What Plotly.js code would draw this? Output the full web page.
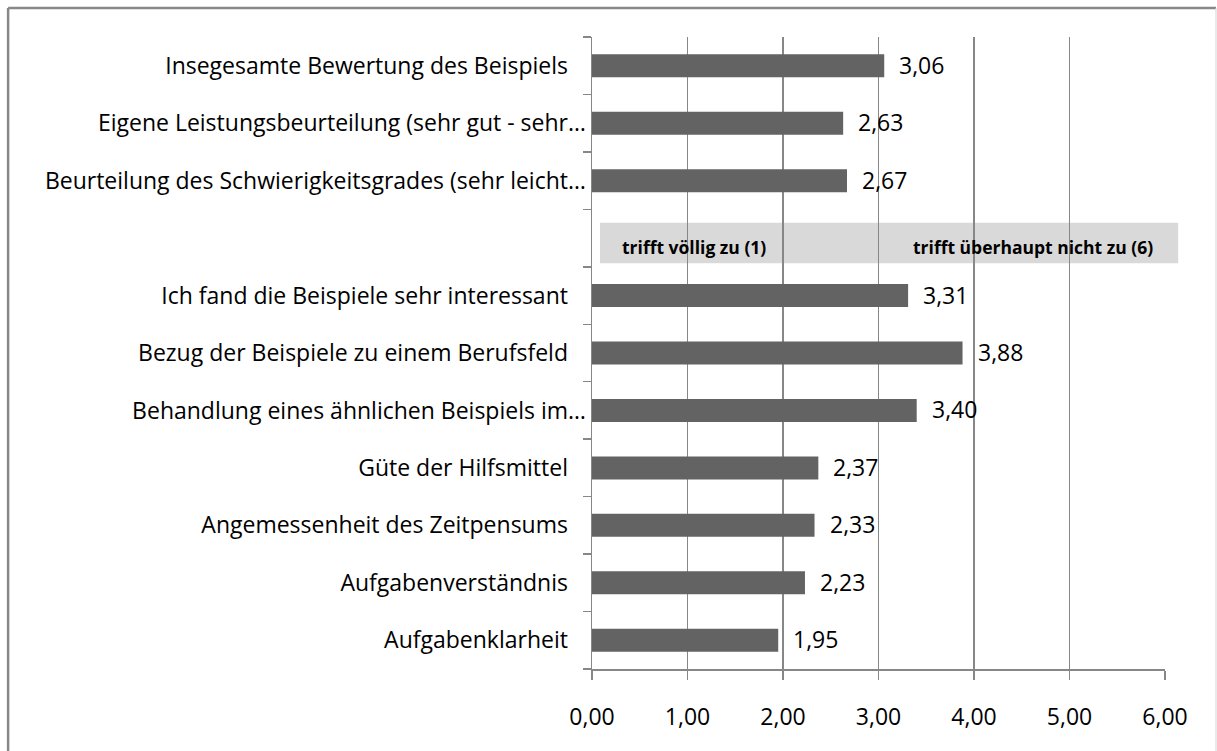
<!DOCTYPE html>
<html>
<head>
<meta charset="utf-8">
<script src="https://cdn.plot.ly/plotly-3.0.1.min.js"></script>
<style>
html,body{margin:0;padding:0;background:#fff;}
#chart{width:1217px;height:751px;}
</style>
</head>
<body>
<div id="chart"></div>
<script>
// Categories from top to bottom; the empty entry is the gap row holding the scale hint
var categories = [
  "Insegesamte Bewertung des Beispiels",
  "Eigene Leistungsbeurteilung (sehr gut - sehr…",
  "Beurteilung des Schwierigkeitsgrades (sehr leicht…",
  " ",
  "Ich fand die Beispiele sehr interessant",
  "Bezug der Beispiele zu einem Berufsfeld",
  "Behandlung eines ähnlichen Beispiels im…",
  "Güte der Hilfsmittel",
  "Angemessenheit des Zeitpensums",
  "Aufgabenverständnis",
  "Aufgabenklarheit"
];
var values = [3.06, 2.63, 2.67, null, 3.31, 3.88, 3.40, 2.37, 2.33, 2.23, 1.95];
var xTicks = [0, 1, 2, 3, 4, 5, 6];
var scaleLeft = "trifft völlig zu (1)";
var scaleRight = "trifft überhaupt nicht zu (6)";

var FONT = "Open Sans, sans-serif";
var GRID = "#878787";

// tick labels: labels not truncated carry a little trailing space as in the original
var tickText = categories.map(function (c) {
  if (c.trim() === "") return "";
  return c.slice(-1) === "…" ? c : c + "\u00a0\u00a0\u00a0";
});

var barY = [], barX = [];
categories.forEach(function (c, i) {
  if (values[i] !== null) { barY.push(c); barX.push(values[i]); }
});

var trace = {
  type: "bar",
  orientation: "h",
  x: barX,
  y: barY,
  marker: {color: "#636363"},
  hoverinfo: "skip"
};

var annotations = barX.map(function (v, i) {
  return {
    x: v, y: barY[i], xref: "x", yref: "y",
    text: v.toFixed(2).replace(".", ","),
    showarrow: false, xanchor: "left", yanchor: "middle",
    xshift: 13, yshift: 1,
    font: {family: FONT, size: 23, color: "#000"}
  };
});
annotations.push({
  x: 0.049, y: 0.668, xref: "paper", yref: "paper",
  text: "<b>" + scaleLeft + "</b>", showarrow: false,
  xanchor: "left", yanchor: "middle",
  font: {family: FONT, size: 17.5, color: "#000"}
});
annotations.push({
  x: 0.983, y: 0.668, xref: "paper", yref: "paper",
  text: "<b>" + scaleRight + "</b>", showarrow: false,
  xanchor: "right", yanchor: "middle",
  font: {family: FONT, size: 17.5, color: "#000"}
});

var layout = {
  width: 1217, height: 751,
  margin: {l: 592, r: 52, t: 37, b: 82, pad: 0},
  paper_bgcolor: "#fff", plot_bgcolor: "#fff",
  separators: ",.",
  showlegend: false,
  bargap: 0.6,
  font: {family: FONT, size: 23, color: "#000"},
  xaxis: {
    range: [0, 6], fixedrange: true,
    tickvals: xTicks, tickformat: ".2f",
    showgrid: true, gridcolor: GRID, gridwidth: 1.5,
    zeroline: false,
    showline: true, linecolor: GRID, linewidth: 1.5,
    ticks: "outside", ticklen: 9, tickcolor: GRID, tickwidth: 1.5,
    ticklabelstandoff: 18,
    tickfont: {family: FONT, size: 23, color: "#000"}
  },
  yaxis: {
    type: "category",
    categoryorder: "array", categoryarray: categories,
    range: [categories.length - 0.5, -0.5],
    tickvals: categories, ticktext: tickText,
    tickson: "boundaries",
    showgrid: false, zeroline: false,
    showline: true, linecolor: GRID, linewidth: 1.5,
    ticks: "outside", ticklen: 8, tickcolor: GRID, tickwidth: 1.5,
    tickfont: {family: FONT, size: 23, color: "#000"},
    fixedrange: true
  },
  shapes: [
    {type: "rect", xref: "paper", yref: "paper", layer: "below",
     x0: 0.014, x1: 1.023, y0: 0.642, y1: 0.706,
     fillcolor: "#d9d9d9", line: {width: 0}},
    // outer chart border
    {type: "line", xref: "paper", yref: "paper",
     x0: -1.019, x1: -1.019, y0: -0.14, y1: 1.046,
     line: {color: "#888888", width: 2.5}},
    {type: "line", xref: "paper", yref: "paper",
     x0: -1.019, x1: 1.089, y0: 1.046, y1: 1.046,
     line: {color: "#888888", width: 2.5}},
    {type: "line", xref: "paper", yref: "paper",
     x0: 1.089, x1: 1.089, y0: -0.14, y1: 1.046,
     line: {color: "#d4d4d4", width: 1}}
  ],
  annotations: annotations
};

Plotly.newPlot("chart", [trace], layout, {displayModeBar: false, staticPlot: true});
</script>
</body>
</html>
